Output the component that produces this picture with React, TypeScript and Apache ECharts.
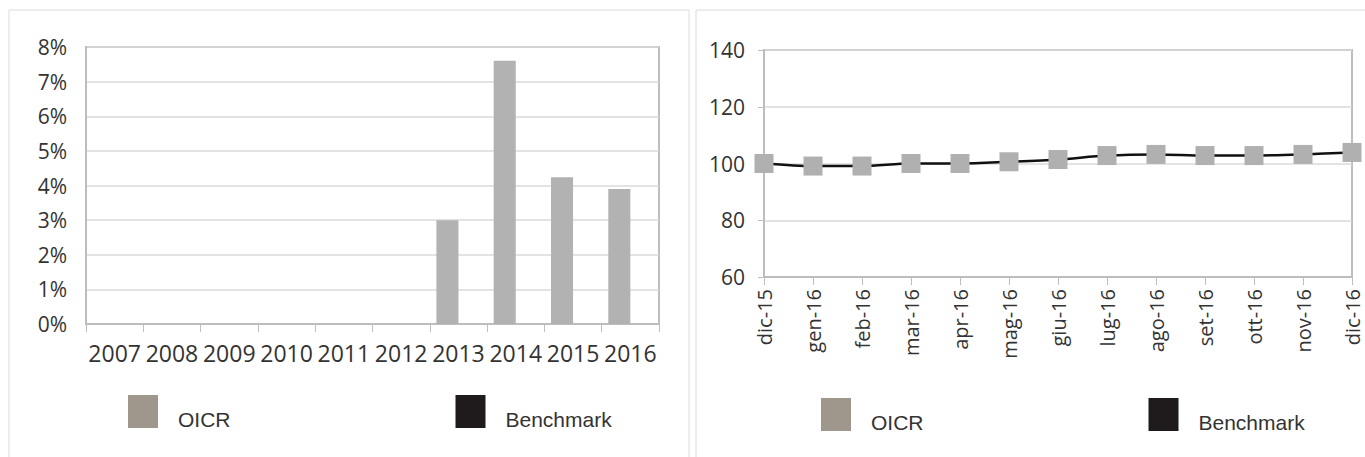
import React, { useEffect, useRef } from "react";
import * as echarts from "echarts";

const years = ["2007", "2008", "2009", "2010", "2011", "2012", "2013", "2014", "2015", "2016"];
const oicrYearly = [null, null, null, null, null, null, 3.0, 7.6, 4.24, 3.9];
const benchmarkYearly = [null, null, null, null, null, null, null, null, null, null];
const pctTicks = [0, 1, 2, 3, 4, 5, 6, 7, 8];

const months = ["dic-15", "gen-16", "feb-16", "mar-16", "apr-16", "mag-16", "giu-16", "lug-16", "ago-16", "set-16", "ott-16", "nov-16", "dic-16"];
const oicrMonthly = [100, 99.1, 99.1, 100, 100, 100.6, 101.4, 102.8, 103.2, 102.8, 102.8, 103.2, 103.9];
const benchmarkMonthly = [100, 99.1, 99.1, 100, 100, 100.6, 101.4, 102.8, 103.2, 102.8, 102.8, 103.2, 103.9];

const FONT = "'Open Sans', 'DejaVu Sans', sans-serif";
const LEG_FONT = "'Liberation Sans', Arial, sans-serif";

export default function App() {
  const ref = useRef<HTMLDivElement>(null);
  useEffect(() => {
    const chart = echarts.init(ref.current!, undefined, { renderer: "svg" });
    const legendCommon = {
      icon: "rect",
      itemWidth: 30,
      itemHeight: 33,
      itemGap: 225,
      padding: 0,
      selectedMode: false,
      formatter: "{t|{name}}",
      textStyle: {
        fontFamily: LEG_FONT,
        fontSize: 21,
        color: "#333333",
        rich: {
          t: {
            fontFamily: LEG_FONT,
            fontSize: 21,
            color: "#333333",
            padding: [16, 0, 0, 15],
          },
        },
      },
      data: [
        { name: "OICR", itemStyle: { color: "#a0978c", borderWidth: 0 } },
        { name: "Benchmark", itemStyle: { color: "#1f1b1c", borderWidth: 0 } },
      ],
    };
    chart.setOption({
      animation: false,
      backgroundColor: "#ffffff",
      graphic: [
        { type: "rect", shape: { x: 9, y: 10, width: 680, height: 470 }, style: { fill: "none", stroke: "#dcdcdc", lineWidth: 1 }, silent: true },
        { type: "rect", shape: { x: 696, y: 10, width: 700, height: 470 }, style: { fill: "none", stroke: "#dcdcdc", lineWidth: 1 }, silent: true },
      ],
      legend: [
        { ...legendCommon, left: 128, top: 395 },
        { ...legendCommon, left: 821, top: 398 },
      ],
      grid: [
        { left: 86, right: 1365 - 659, top: 47, bottom: 457 - 324, show: true, borderColor: "#bdbdbd", borderWidth: 2 },
        { left: 764, right: 1365 - 1352, top: 50, bottom: 457 - 277, show: true, borderColor: "#bdbdbd", borderWidth: 2 },
      ],
      xAxis: [
        {
          type: "category",
          gridIndex: 0,
          data: years,
          boundaryGap: true,
          axisLine: { lineStyle: { color: "#bdbdbd", width: 2 } },
          axisTick: { show: true, length: 8, lineStyle: { color: "#bdbdbd" } },
          axisLabel: { interval: 0, fontFamily: FONT, fontSize: 23, color: "#333333", margin: 17 },
        },
        {
          type: "category",
          gridIndex: 1,
          data: months,
          boundaryGap: false,
          axisLine: { lineStyle: { color: "#bdbdbd", width: 2 } },
          axisTick: { show: true, length: 8, lineStyle: { color: "#bdbdbd" } },
          axisLabel: { interval: 0, fontFamily: FONT, fontSize: 20, color: "#333333", rotate: 90, margin: 12 },
        },
      ],
      yAxis: [
        {
          type: "value",
          gridIndex: 0,
          min: pctTicks[0],
          max: pctTicks[pctTicks.length - 1],
          interval: 1,
          axisLine: { show: true, lineStyle: { color: "#bdbdbd", width: 2 } },
          axisTick: { show: false },
          splitLine: { lineStyle: { color: "#dadada", width: 1.5 } },
          axisLabel: { fontFamily: FONT, fontSize: 21, color: "#333333", margin: 19, formatter: "{value}%" },
        },
        {
          type: "value",
          gridIndex: 1,
          min: 60,
          max: 140,
          interval: 20,
          axisLine: { show: true, lineStyle: { color: "#bdbdbd", width: 2 } },
          axisTick: { show: true, length: 6, lineStyle: { color: "#bdbdbd" } },
          splitLine: { lineStyle: { color: "#dadada", width: 1.5 } },
          axisLabel: { fontFamily: FONT, fontSize: 21, color: "#333333", margin: 19 },
        },
      ],
      series: [
        {
          name: "OICR",
          type: "bar",
          xAxisIndex: 0,
          yAxisIndex: 0,
          data: oicrYearly,
          barGap: "0%",
          barCategoryGap: "23%",
          itemStyle: { color: "#b2b2b2" },
        },
        {
          name: "Benchmark",
          type: "bar",
          xAxisIndex: 0,
          yAxisIndex: 0,
          data: benchmarkYearly,
          itemStyle: { color: "#1f1b1c" },
        },
        {
          name: "Benchmark",
          type: "line",
          xAxisIndex: 1,
          yAxisIndex: 1,
          data: benchmarkMonthly,
          smooth: 0.3,
          showSymbol: false,
          symbol: "none",
          lineStyle: { color: "#111111", width: 2.5 },
          itemStyle: { color: "#1f1b1c" },
          z: 2,
        },
        {
          name: "OICR",
          type: "line",
          xAxisIndex: 1,
          yAxisIndex: 1,
          data: oicrMonthly,
          symbol: "rect",
          symbolSize: 19,
          lineStyle: { width: 0, opacity: 0 },
          itemStyle: { color: "#b0b0b0" },
          z: 3,
        },
      ],
    });
    return () => chart.dispose();
  }, []);
  return (
    <div
      ref={ref}
      style={{ position: "fixed", left: 0, top: 0, width: 1365, height: 457 }}
    />
  );
}
